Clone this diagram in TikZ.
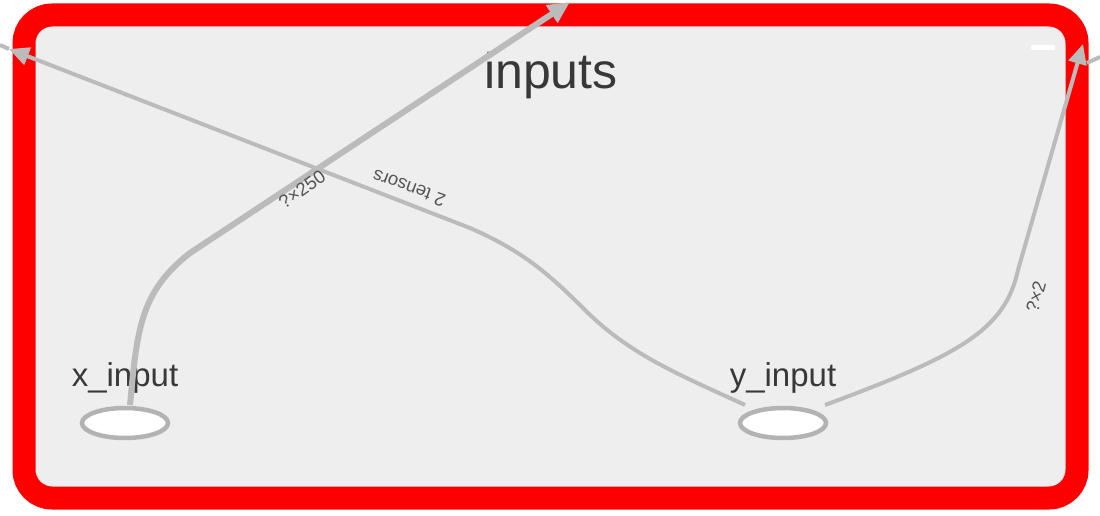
\documentclass[tikz,border=0pt]{standalone}
\usepackage{fontspec}
\setmainfont{Liberation Sans}
\usetikzlibrary{arrows.meta,shapes.geometric}

\definecolor{framered}{HTML}{FF0000}
\definecolor{groupfill}{HTML}{EEEEEE}
\definecolor{edgegrey}{HTML}{BBBBBB}
\definecolor{opgrey}{HTML}{B3B3B3}
\definecolor{labelgrey}{HTML}{555555}
\definecolor{textgrey}{HTML}{383838}

\tikzset{
    inputop/.style={ellipse, draw=opgrey, line width=4.5pt, fill=white,
        minimum width=86pt, minimum height=30pt, inner sep=0pt},
    oplabel/.style={text=textgrey, font=\fontsize{33}{36}\selectfont},
    edge/.style={draw=edgegrey, line width=4pt,
        -{Triangle[length=20pt,width=18pt]}},
    edgelabel/.style={text=labelgrey, font=\fontsize{18.5}{20}\selectfont, inner sep=1pt}
}

\begin{document}
\begin{tikzpicture}[x=1pt,y=1pt]
    \useasboundingbox (0,0) rectangle (1100,-516);

    % group box
    \draw [framered, fill=groupfill, line width=23pt, rounded corners=28pt]
        (24,-15) rectangle (1077,-498);
    \fill [white, rounded corners=1pt] (1031,-45) rectangle (1055,-50);
    \node (title) [text=textgrey, font=\fontsize{50}{54}\selectfont] at (551,-76) {inputs};

    % ops
    \node (xin) [inputop] at (125,-423) {};
    \node (yin) [inputop] at (783,-423) {};
    \node (xlab) [oplabel] at (125,-378) {x\_input};
    \node (ylab) [oplabel] at (783,-378) {y\_input};

    % edges
    \coordinate (xout) at (570,-2);
    \coordinate (yleft) at (9,-49);
    \coordinate (yright) at (1083,-44);

    \draw [edge, line width=6pt, -{Triangle[length=22pt,width=20pt]}]
        (130,-405) .. controls (137,-330) and (140,-292) .. (190,-253) -- (xout);
    \draw [edge] (745,-405) .. controls (680,-375) and (630,-355) .. (585,-310)
        .. controls (545,-270) and (520,-250) .. (470,-228) -- (yleft);
    \draw [edge] (825,-405) .. controls (960,-355) and (1005,-330) .. (1018,-270) -- (yright);

    \draw [edgegrey, line width=4pt] (yleft) -- (0,-45);
    \draw [edgegrey, line width=4pt] (1087,-63) -- (1100,-57);

    \node (lx) [edgelabel, rotate=35] at (302,-189) {?×250};
    \node (ly) [edgelabel, rotate=160] at (409,-188) {2 tensors};
    \node (lr) [edgelabel, rotate=74] at (1036,-297) {?×2};
\end{tikzpicture}
\end{document}
